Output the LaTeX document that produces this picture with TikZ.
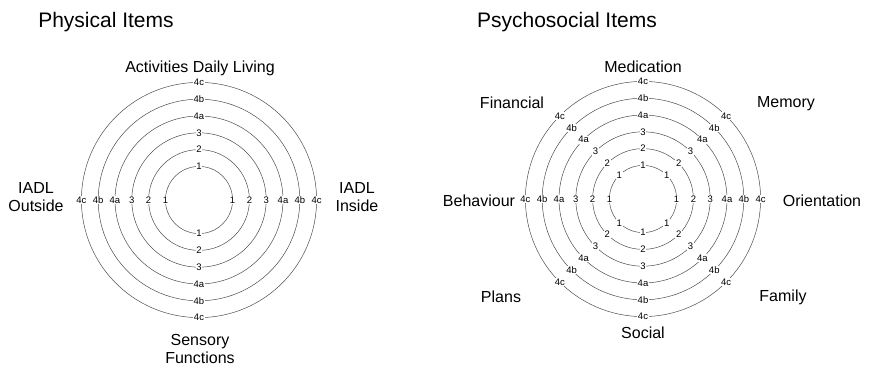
\documentclass[tikz,border=0pt]{standalone}
\usepackage{fontspec}
\setmainfont{Liberation Sans}

\tikzset{
  ring/.style={draw=black!70, line width=0.5pt},
  ringlabel/.style={fill=white, inner sep=0.7pt, font=\fontsize{9.5}{10}\selectfont},
  axislabel/.style={align=center, inner sep=0pt, font=\fontsize{16}{18}\selectfont},
  charttitle/.style={inner sep=0pt, font=\fontsize{21}{23}\selectfont},
}

\begin{document}
\begin{tikzpicture}[x=1pt,y=-1pt]
  \useasboundingbox (0,0) rectangle (871,372);

  % centres of the two charts
  \coordinate (phys) at (199,200);
  \coordinate (psych) at (643,199);

  % titles
  \node[charttitle] (physTitle) at (106,22) {Physical Items};
  \node[charttitle] (psychTitle) at (567,22) {Psychosocial Items};

  % physical chart: rings and labels on four axes
  \foreach \r/\lab in {1/1,2/2,3/3,4/4a,5/4b,6/4c} {
    \draw[ring] (phys) circle ({16.8*(\r+1)});
    \foreach \a in {0,90,180,270}
      \node[ringlabel] (phys-\r-\a) at ([shift={(\a:{16.8*(\r+1)})}]phys) {\lab};
  }

  % psychosocial chart: rings and labels on eight axes
  \foreach \r/\lab in {1/1,2/2,3/3,4/4a,5/4b,6/4c} {
    \draw[ring] (psych) circle ({16.8*(\r+1)});
    \foreach \a in {0,45,...,315}
      \node[ringlabel] (psych-\r-\a) at ([shift={(\a:{16.8*(\r+1)})}]psych) {\lab};
  }

  % axis names, physical
  \node[axislabel] (adl) at (200,68) {Activities Daily Living};
  \node[axislabel] (sensory) at (200,349) {Sensory\\Functions};
  \node[axislabel] (outside) at (36,197) {IADL\\Outside};
  \node[axislabel] (inside) at (357,197) {IADL\\Inside};

  % axis names, psychosocial
  \node[axislabel] (medication) at (643,67) {Medication};
  \node[axislabel] (memory) at (786,104) {Memory};
  \node[axislabel] (financial) at (512,103) {Financial};
  \node[axislabel] (orientation) at (822,201) {Orientation};
  \node[axislabel] (behaviour) at (479,201) {Behaviour};
  \node[axislabel] (plans) at (501,297) {Plans};
  \node[axislabel] (family) at (783,297) {Family};
  \node[axislabel] (social) at (643,333) {Social};
\end{tikzpicture}
\end{document}
